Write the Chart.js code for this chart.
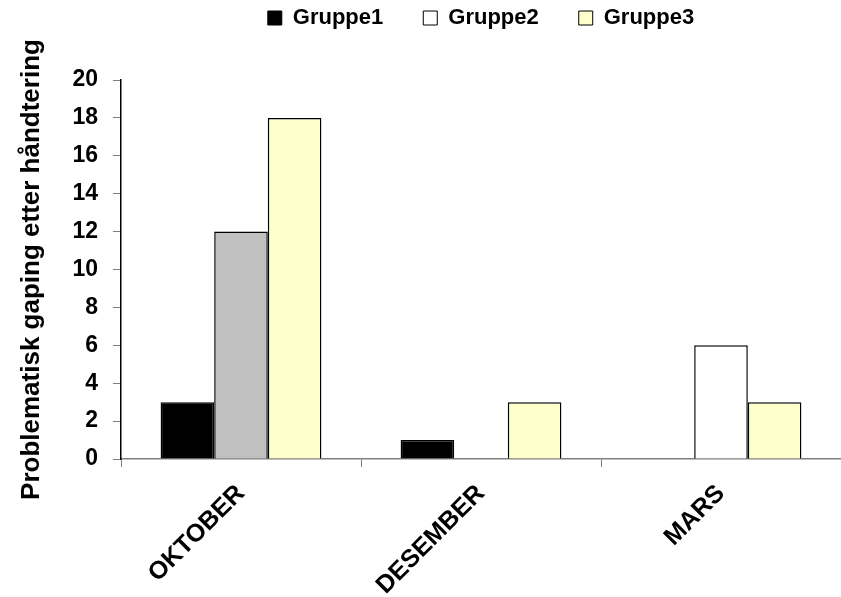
<!DOCTYPE html>
<html>
<head>
<meta charset="utf-8">
<script src="https://cdn.jsdelivr.net/npm/chart.js@4.4.0/dist/chart.umd.min.js"></script>
<style>
    html, body { margin: 0; padding: 0; background: #fff; }
    #wrap { width: 841px; height: 597px; }
</style>
</head>
<body>
<div id="wrap"><canvas id="chartGaping"></canvas></div>
<script>
const months = ['OKTOBER', 'DESEMBER', 'MARS'];
const gruppe1 = [3, 1, 0];
const gruppe2 = [12, 0, 6];
const gruppe3 = [18, 3, 3];
const yTicks = [0, 2, 4, 6, 8, 10, 12, 14, 16, 18, 20];

const fontFam = '"Liberation Sans", Arial, sans-serif';
const ctx = document.getElementById('chartGaping');

// hide the border on zero bars
const zeroBorder = c => (c.raw === 0 ? 0 : 1.5);

// legend text sits close to the top edge
const legendShift = {
    id: 'legendShift',
    afterLayout(chart) {
        const lg = chart.legend;
        const dy = 18 - (lg.top + 40 + 11);
        lg.top += dy;
        lg.bottom += dy;
    }
};

const config = {
    type: 'bar',
    data: {
        labels: months,
        datasets: [{
                label: 'Gruppe1',
                data: gruppe1,
                backgroundColor: '#000000',
                borderColor: '#000000',
                borderWidth: zeroBorder,
            },
            {
                label: 'Gruppe2',
                data: gruppe2,
                backgroundColor: ['#C0C0C0', '#FFFFFF', '#FFFFFF'],
                borderColor: '#000000',
                borderWidth: zeroBorder,
            },
            {
                label: 'Gruppe3',
                data: gruppe3,
                backgroundColor: '#FFFFCC',
                borderColor: '#000000',
                borderWidth: zeroBorder,
            }
        ]
    },
    plugins: [legendShift],
    options: {
        responsive: true,
        maintainAspectRatio: false,
        animation: false,
        categoryPercentage: 0.67,
        barPercentage: 1.0,
        layout: {
            padding: { top: 8, left: 10, right: 0, bottom: 0 }
        },
        plugins: {
            legend: {
                position: 'top',
                fullSize: false,
                labels: {
                    color: '#000',
                    font: { family: fontFam, size: 22, weight: 'bold' },
                    boxWidth: 14,
                    boxHeight: 14,
                    padding: 40,
                    generateLabels: function(chart) {
                        const items = Chart.defaults.plugins.legend.labels.generateLabels(chart);
                        items.forEach(it => {
                            if (it.datasetIndex === 1) it.fillStyle = '#FFFFFF';
                            it.lineWidth = 1;
                            it.strokeStyle = '#000';
                        });
                        return items;
                    }
                }
            },
            tooltip: { enabled: false }
        },
        scales: {
            x: {
                afterFit: axis => { axis.height = 138; },
                grid: {
                    offset: true,
                    drawOnChartArea: false,
                    drawTicks: true,
                    tickLength: 8,
                    tickColor: '#808080'
                },
                border: { color: '#808080', width: 1.5 },
                ticks: {
                    color: '#000',
                    font: { family: fontFam, size: 25, weight: 'bold' },
                    minRotation: 45,
                    maxRotation: 45,
                    padding: 12
                }
            },
            y: {
                min: 0,
                max: 20,
                afterFit: axis => { axis.width = 111; },
                afterBuildTicks: axis => {
                    axis.ticks = yTicks.map(v => ({ value: v }));
                },
                grid: {
                    drawOnChartArea: false,
                    drawTicks: true,
                    tickLength: 8,
                    tickColor: '#808080'
                },
                border: { color: '#000', width: 1.5 },
                ticks: {
                    color: '#000',
                    font: { family: fontFam, size: 23, weight: 'bold' },
                    padding: 15
                },
                title: {
                    display: true,
                    text: 'Problematisk gaping etter håndtering',
                    color: '#000',
                    font: { family: fontFam, size: 26, weight: 'bold' },
                    padding: { top: 6, bottom: 4 }
                }
            }
        }
    }
};
var chart = new Chart(ctx, config);
</script>
</body>
</html>
